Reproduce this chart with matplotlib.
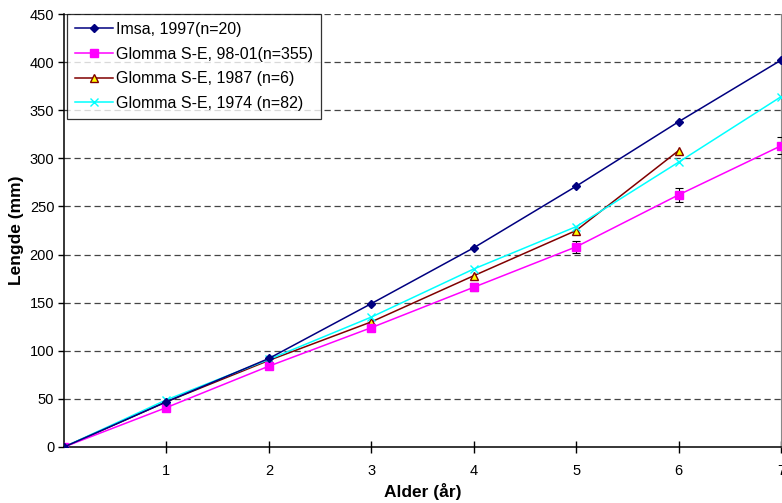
import matplotlib
matplotlib.use("Agg")
import matplotlib.pyplot as plt
from matplotlib.lines import Line2D

plt.rcParams['font.family'] = ['Liberation Sans', 'DejaVu Sans']

ages = [0, 1, 2, 3, 4, 5, 6, 7]
imsa_1997 = [0, 47, 92, 149, 207, 271, 338, 402]
glomma_9801 = [0, 41, 84, 124, 166, 208, 262, 313]
glomma_9801_err = [0, 1.5, 2, 2.5, 4, 6.5, 7.5, 9]
ages_1987 = [0, 1, 2, 3, 4, 5, 6]
glomma_1987 = [0, 47, 90, 130, 178, 225, 308]
glomma_1974 = [0, 49, 91, 135, 185, 229, 296, 364]

labels = ["Imsa, 1997(n=20)", "Glomma S-E, 98-01(n=355)",
          "Glomma S-E, 1987 (n=6)", "Glomma S-E, 1974 (n=82)"]
yticks = list(range(0, 451, 50))
xticks = [1, 2, 3, 4, 5, 6, 7]

styles = [
    dict(color="#000080", marker="D", ms=4, mfc="#000080", mec="#000080"),
    dict(color="#FF00FF", marker="s", ms=6, mfc="#FF00FF", mec="#FF00FF"),
    dict(color="#800000", marker="^", ms=6, mfc="#FFFF00", mec="#800000", mew=1.0),
    dict(color="#00FFFF", marker="x", ms=6, mec="#00FFFF", mew=1.0),
]

fig = plt.figure(figsize=(7.82, 5.03), dpi=100)
ax = fig.add_axes([64 / 782, 56 / 503, 717 / 782, 433 / 503])

ax.plot(ages, imsa_1997, lw=1.1, zorder=5, **styles[0])
ax.errorbar(ages, glomma_9801, yerr=glomma_9801_err, lw=1.1, ecolor="black",
            elinewidth=0.8, capsize=3, capthick=0.8, zorder=4, **styles[1])
ax.plot(ages_1987, glomma_1987, lw=1.1, zorder=4, **styles[2])
ax.plot(ages, glomma_1974, lw=1.1, zorder=4, **styles[3])

ax.set_xlim(0, 7)
ax.set_ylim(0, 450)
ax.set_xticks(xticks)
ax.set_yticks(yticks)
ax.tick_params(axis="x", direction="inout", length=8, width=1, labelsize=10.5, pad=8)
ax.tick_params(axis="y", direction="out", length=4, width=1, labelsize=10.5, pad=3)

for y in yticks[1:]:
    ax.axhline(y, color="#444444", lw=0.9, ls=(0, (5, 3)), zorder=1)

ax.spines["top"].set_visible(False)
ax.spines["right"].set_color("#888888")
ax.spines["left"].set_color("black")
ax.spines["bottom"].set_color("black")
ax.spines["left"].set_linewidth(1.1)
ax.spines["bottom"].set_linewidth(1.1)

ax.set_xlabel("Alder (år)", fontsize=12.5, fontweight="bold", labelpad=4)
ax.set_ylabel("Lengde (mm)", fontsize=12.5, fontweight="bold")
ax.yaxis.set_label_coords(-0.056, 0.5)

handles = [Line2D([], [], lw=1.1, **s) for s in styles]
leg = ax.legend(handles, labels, loc="upper left", bbox_to_anchor=(0.004, 1.0),
                fontsize=11.5, frameon=True, fancybox=False, edgecolor="black",
                borderpad=0.5, labelspacing=0.6, handlelength=2.4,
                handletextpad=0.2, borderaxespad=0.0)
leg.get_frame().set_linewidth(0.9)
leg.set_zorder(10)

fig.savefig("out.png", dpi=100)
